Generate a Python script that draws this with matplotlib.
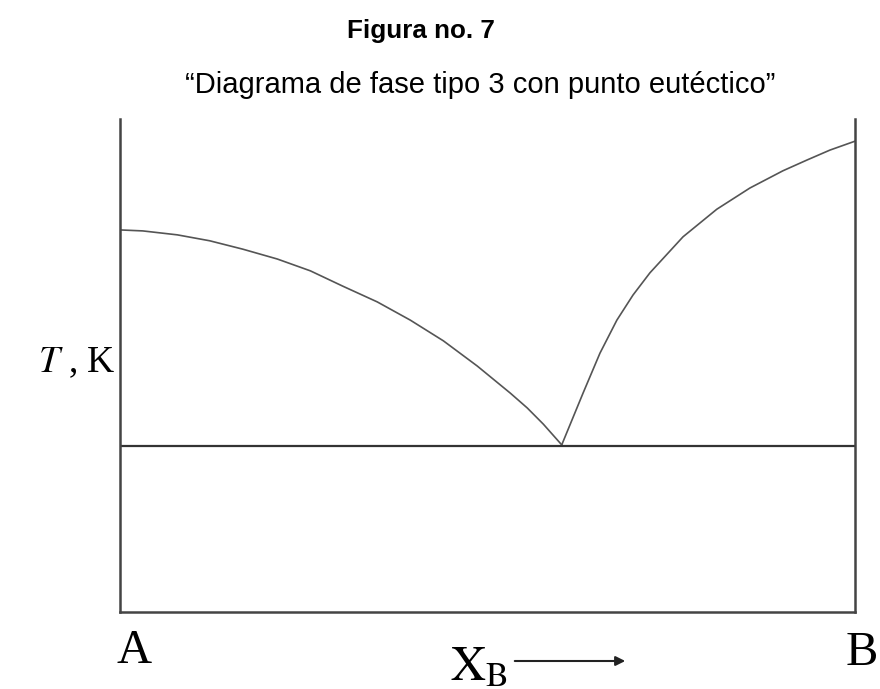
"""
Diagrama de fase tipo 3 con punto eutectico (Figura no. 7).
Writes out.png.
"""

import matplotlib
matplotlib.use("Agg")
import matplotlib.pyplot as plt
from matplotlib.patches import FancyArrowPatch

# composition X_B (0 = A, 1 = B) and temperature (arbitrary units, 0-100)
x_left = [0.000, 0.031, 0.078, 0.122, 0.167, 0.214, 0.259, 0.303,
          0.350, 0.395, 0.440, 0.486, 0.531, 0.554, 0.576, 0.601]
t_left = [77.5, 77.3, 76.5, 75.3, 73.6, 71.6, 69.2, 66.1,
          62.9, 59.2, 55.0, 49.9, 44.4, 41.4, 38.1, 33.9]

x_right = [0.601, 0.630, 0.653, 0.676, 0.698, 0.721, 0.766, 0.812,
           0.857, 0.902, 0.935, 0.966, 1.000]
t_right = [33.9, 44.4, 52.5, 59.2, 64.3, 68.8, 76.1, 81.7,
           86.0, 89.5, 91.7, 93.7, 95.5]

t_eutectic = 33.7

W, H = 880, 689

plt.rcParams["mathtext.fontset"] = "stix"

fig = plt.figure(figsize=(W / 100, H / 100), dpi=100)
ax = fig.add_axes([120 / W, 1 - 612 / H, 735 / W, 493 / H])
ax.set_xlim(0, 1)
ax.set_ylim(0, 100)

ax.plot(x_left, t_left, color="#555555", lw=1.2, solid_joinstyle="round")
ax.plot(x_right, t_right, color="#555555", lw=1.2, solid_joinstyle="round")
ax.axhline(t_eutectic, color="#333333", lw=1.6)

ax.spines["top"].set_visible(False)
for s in ("left", "right", "bottom"):
    ax.spines[s].set_color("#444444")
    ax.spines[s].set_linewidth(1.8)
ax.set_xticks([])
ax.set_yticks([])


def fx(px):
    return px / W


def fy(py):
    return 1 - py / H


fig.text(fx(421), fy(38), "Figura no. 7", ha="center", va="baseline",
         fontsize=18.7, fontweight="bold", family="Liberation Sans")
fig.text(fx(480), fy(93), "\u201cDiagrama de fase tipo 3 con punto eut\u00e9ctico\u201d",
         ha="center", va="baseline", fontsize=21, family="Liberation Sans")

serif = dict(family="Liberation Serif", fontsize=35, va="baseline")
fig.text(fx(116), fy(372), r"$T$ , K", ha="right", family="Liberation Serif",
         fontsize=27, va="baseline")
fig.text(fx(134), fy(663), "A", ha="center", **serif)
fig.text(fx(862), fy(665), "B", ha="center", **serif)
fig.text(fx(450), fy(680), r"$\mathrm{X}_{\mathrm{B}}$", ha="left", **serif)

fig.add_artist(FancyArrowPatch(
    (fx(512), fy(661)), (fx(628), fy(661)), transform=fig.transFigure,
    arrowstyle="-|>", mutation_scale=14, color="#222222", lw=1.5))

fig.savefig("out.png", dpi=100)
